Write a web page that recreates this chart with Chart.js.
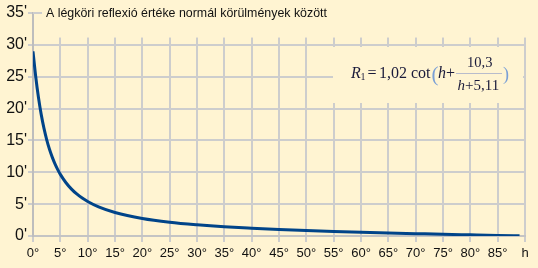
<!DOCTYPE html>
<html>
<head>
<meta charset="utf-8">
<script src="https://cdn.jsdelivr.net/npm/chart.js@4.4.1/dist/chart.umd.min.js"></script>
<style>
  html, body { margin: 0; padding: 0; background: #FFF4D2; }
  canvas { display: block; }
</style>
</head>
<body>
<canvas id="c" width="538" height="268"></canvas>
<script>
// Elevation h (degrees)
const hValues = [0, 0.5, 1, 1.5, 2, 2.5, 3, 3.5, 4, 4.5, 5, 6, 7, 8, 9, 10, 12, 15, 20, 25, 30, 35, 40, 45, 50, 55, 60, 65, 70, 75, 80, 85, 89];
// Refraction R (arc minutes)
const refraction = [28.98, 25.00, 21.74, 19.09, 16.93, 15.14, 13.66, 12.42, 11.36, 10.46, 9.67, 8.40, 7.40, 6.60, 5.95, 5.41, 4.56, 3.68, 2.74, 2.15, 1.75, 1.44, 1.21, 1.01, 0.85, 0.71, 0.59, 0.47, 0.37, 0.27, 0.18, 0.09, 0.02];
const xTickStep = 5;
const yTickStep = 5;
const titleText = 'A légköri reflexió értéke normál körülmények között';
const axisLabelX = 'h';

const CREAM = '#FFF4D2';
const GRID = '#cdcdcd';
const SANS = '"Liberation Sans", Arial, sans-serif';
const SERIF = '"Liberation Serif", "Times New Roman", serif';

const points = hValues.map((h, i) => ({ x: h, y: refraction[i] }));

const decor = {
  id: 'decor',
  beforeDraw(chart) {
    const ctx = chart.ctx;
    ctx.save();
    ctx.fillStyle = CREAM;
    ctx.fillRect(0, 0, chart.width, chart.height);
    ctx.restore();
  },
  beforeDatasetsDraw(chart) {
    const ctx = chart.ctx;
    const ys = chart.scales.y;
    const a = chart.chartArea;
    ctx.save();
    // clear grid above the plotted range
    const topGrid = ys.getPixelForValue(31.15);
    ctx.fillStyle = CREAM;
    ctx.fillRect(a.left + 1.5, 0, a.right + 4 - (a.left + 1.5), topGrid);
    // 35' stub
    const y35 = Math.round(ys.getPixelForValue(35));
    ctx.strokeStyle = GRID;
    ctx.lineWidth = 2;
    ctx.beginPath();
    ctx.moveTo(a.left, y35);
    ctx.lineTo(a.left + 9, y35);
    ctx.stroke();
    // title
    ctx.fillStyle = '#111';
    ctx.font = '12.4px ' + SANS;
    ctx.textBaseline = 'middle';
    ctx.textAlign = 'left';
    ctx.fillText(titleText, a.left + 13, y35 + 1);

    // formula box
    ctx.fillStyle = CREAM;
    ctx.fillRect(333, 47, 190, 56);

    const ink = '#1a1a3a';
    const paren = '#7a9fd6';
    ctx.textBaseline = 'alphabetic';
    const base = 78;
    function t(str, x, y, font, color) {
      ctx.font = font;
      ctx.fillStyle = color;
      ctx.fillText(str, x, y);
    }
    t('R', 351, base, 'italic 16px ' + SERIF, ink);
    t('1', 360.5, base + 2, '10px ' + SERIF, ink);
    t('=', 367.5, base, '16px ' + SERIF, ink);
    t('1,02', 379, base, '16px ' + SERIF, ink);
    t('cot', 411, base, '16px ' + SERIF, ink);
    t('(', 431.5, base + 3, '21px ' + SERIF, paren);
    t('h', 438, base, 'italic 16px ' + SERIF, ink);
    t('+', 446, base, '16px ' + SERIF, ink);
    t('10,3', 467, 67, '14.5px ' + SERIF, ink);
    t('h', 457.5, 89.5, 'italic 15px ' + SERIF, ink);
    t('+5,11', 465, 89.5, '15px ' + SERIF, ink);
    t(')', 503, base + 2, '18px ' + SERIF, paren);
    ctx.strokeStyle = '#b8bccc';
    ctx.lineWidth = 1;
    ctx.beginPath();
    ctx.moveTo(456, 73.5);
    ctx.lineTo(502, 73.5);
    ctx.stroke();
    ctx.restore();
  }
};

new Chart(document.getElementById('c'), {
  type: 'line',
  data: {
    datasets: [{
      data: points,
      borderColor: '#004489',
      borderWidth: 3,
      pointRadius: 0,
      fill: false,
      cubicInterpolationMode: 'monotone'
    }]
  },
  options: {
    responsive: false,
    animation: false,
    layout: { padding: { top: 13, right: 13, left: 0, bottom: 0 } },
    plugins: { legend: { display: false }, tooltip: { enabled: false }, title: { display: false } },
    scales: {
      x: {
        type: 'linear',
        min: 0,
        max: 90,
        ticks: {
          stepSize: xTickStep,
          autoSkip: false,
          maxRotation: 0,
          padding: 4,
          color: '#111',
          font: { family: SANS, size: 13 },
          callback: v => v === 90 ? axisLabelX : v + '°'
        },
        grid: { color: GRID, lineWidth: 2, tickLength: 6, tickColor: GRID },
        border: { color: '#c4c4c4', width: 2 },
        afterFit: s => { s.height = 32; }
      },
      y: {
        min: 0,
        max: 35,
        ticks: {
          stepSize: yTickStep,
          padding: 1,
          color: '#111',
          font: { family: SANS, size: 16 },
          callback: v => v + "'"
        },
        grid: {
          color: c => (c.tick && c.tick.value === 35) ? 'rgba(0,0,0,0)' : GRID,
          lineWidth: 2,
          tickLength: 5,
          tickColor: GRID
        },
        border: { color: '#bdbdbd', width: 2 },
        afterFit: s => { s.width = 33; }
      }
    }
  },
  plugins: [decor]
});
</script>
</body>
</html>
